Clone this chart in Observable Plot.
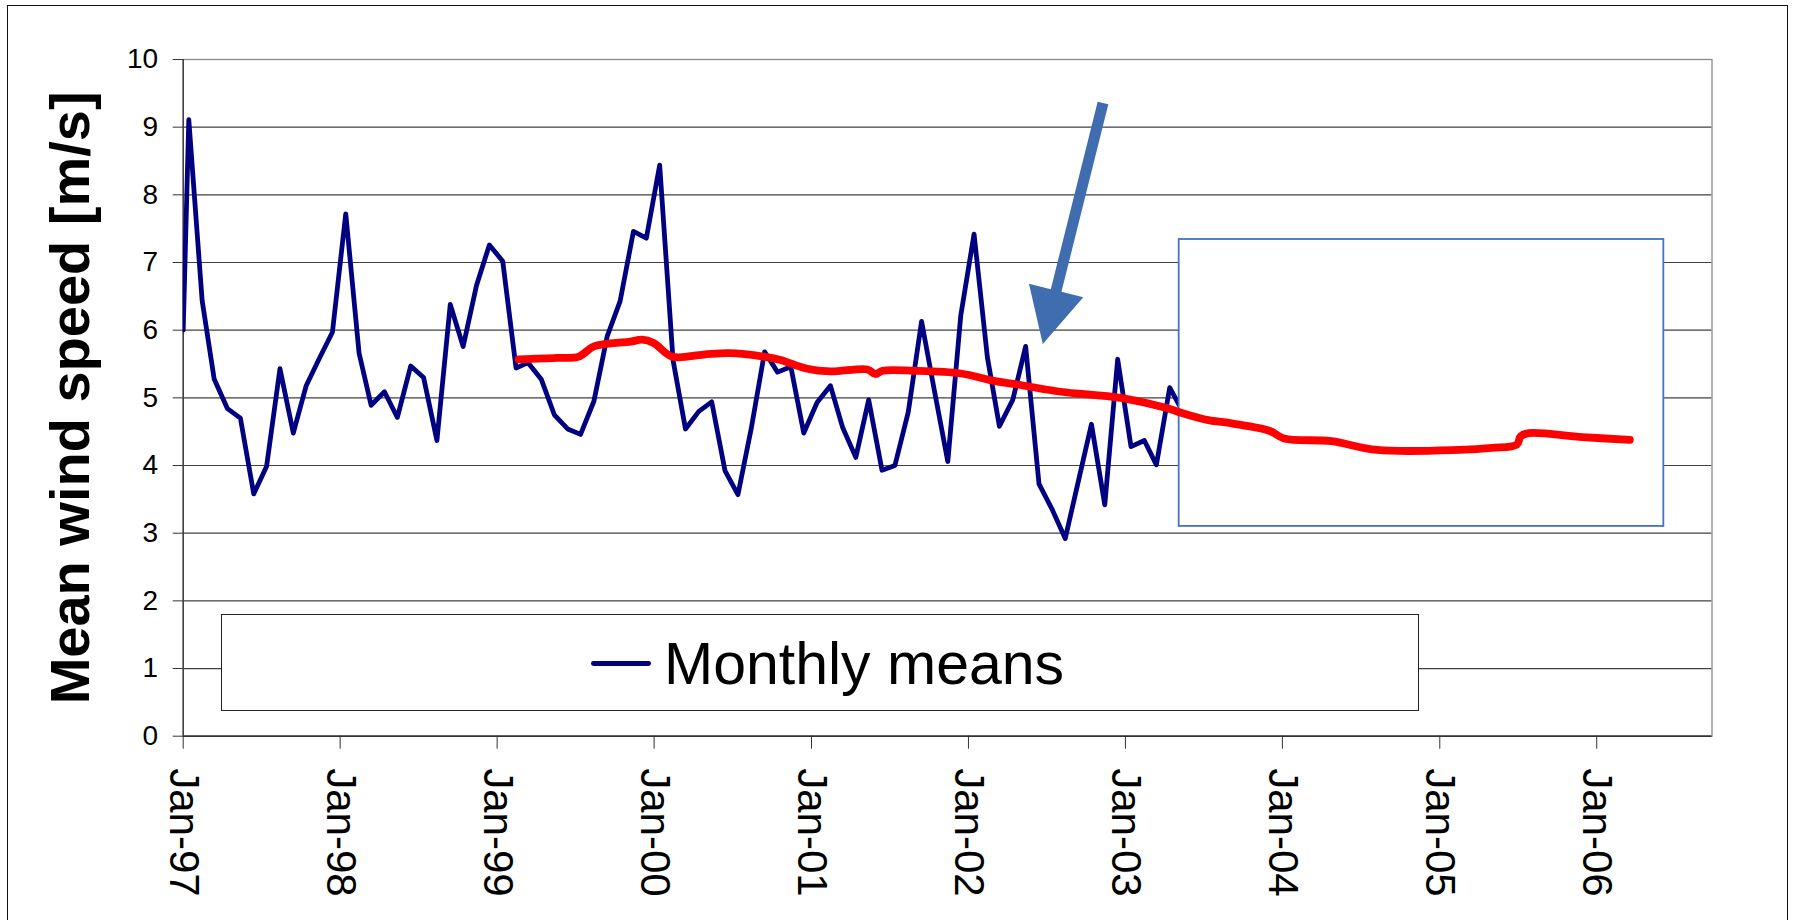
<!DOCTYPE html>
<html>
<head>
<meta charset="utf-8">
<script src="https://cdn.jsdelivr.net/npm/d3@7"></script>
<script src="https://cdn.jsdelivr.net/npm/@observablehq/plot@0.6"></script>
<style>
  html, body { margin: 0; padding: 0; background: #fff; }
  #wrap { position: relative; width: 1795px; height: 920px; overflow: hidden; background: #fff;
          font-family: "Liberation Sans", Arial, sans-serif; }
  #wrap svg { position: absolute; left: 0; top: 0; }
  #border { position: absolute; left: 6.5px; top: 5.3px; width: 1781px; height: 1000px;
            border: 1.5px solid #111; box-sizing: border-box; }
  #legend { position: absolute; left: 221px; top: 613.5px; width: 1198px; height: 97px;
            border: 1.5px solid #222; box-sizing: border-box; background: #fff; }
  #swatch { position: absolute; left: 590.7px; top: 661px; width: 60.5px; height: 4.8px;
            border-radius: 2.4px; background: #000080; }
  #legtext { position: absolute; left: 664px; top: 635px; font-size: 59px; line-height: 59px;
             color: #000; white-space: nowrap; }
</style>
</head>
<body>
<div id="wrap"></div>
<script>
// ---------------- data ----------------
// Monthly means (m/s), one value per month from Jan-97 (plotted mid-month)
const monthlyMeans = [
  9.11, 6.44, 5.28, 4.84, 4.70, 3.58, 3.99, 5.43, 4.48, 5.18, 5.59, 5.97,
  7.72, 5.66, 4.89, 5.09, 4.71, 5.47, 5.30, 4.37, 6.38, 5.76, 6.66, 7.26,
  7.02, 5.44, 5.52, 5.27, 4.75, 4.54, 4.46, 4.95, 5.91, 6.43, 7.46, 7.36,
  8.44, 5.56, 4.54, 4.80, 4.94, 3.92, 3.57, 4.55, 5.68, 5.38, 5.46, 4.48,
  4.93, 5.18, 4.57, 4.12, 4.97, 3.93, 4.00, 4.79, 6.13, 5.10, 4.06, 6.21,
  7.42, 5.60, 4.58, 4.97, 5.76, 3.73, 3.36, 2.92, 3.78, 4.61, 3.42, 5.57,
  4.28, 4.37, 4.01, 5.15, 4.80
];
const firstMonth = [1997, 0];
const monthDay = 14;
const leadingPoint = { date: "1997-01-01", value: 6.0 };

// Smoothed trend (red curve)
const trendDates = [
  "1999-02-20", "1999-05-20", "1999-07-10", "1999-08-14", "1999-11-07", "1999-12-04",
  "1999-12-31", "2000-02-12", "2000-04-25", "2000-06-23", "2000-09-12", "2000-10-21",
  "2000-12-22", "2001-02-14", "2001-05-11", "2001-05-30", "2001-06-15", "2001-08-27",
  "2001-12-14", "2002-03-01", "2002-05-02", "2002-08-03", "2002-12-21", "2003-03-31",
  "2003-05-26", "2003-07-13", "2003-09-08", "2003-12-03", "2004-01-05", "2004-04-24",
  "2004-08-08", "2005-02-15", "2005-05-02", "2005-06-29", "2005-07-08", "2005-07-27",
  "2005-11-29", "2006-03-19"
];
const trendValues = [
  5.57, 5.59, 5.61, 5.76, 5.83, 5.86,
  5.81, 5.61, 5.64, 5.66, 5.61, 5.56,
  5.43, 5.39, 5.42, 5.35, 5.40, 5.40,
  5.36, 5.25, 5.19, 5.09, 5.00, 4.86,
  4.75, 4.67, 4.62, 4.51, 4.40, 4.36,
  4.23, 4.23, 4.26, 4.31, 4.43, 4.48,
  4.42, 4.38
];

// Axes
const xDomain = ["1997-01-01", "2006-09-26"];
const tickYears = [1997, 1998, 1999, 2000, 2001, 2002, 2003, 2004, 2005, 2006];
const xTickLabels = ["Jan-97", "Jan-98", "Jan-99", "Jan-00", "Jan-01", "Jan-02", "Jan-03", "Jan-04", "Jan-05", "Jan-06"];
const yTicks = [0, 1, 2, 3, 4, 5, 6, 7, 8, 9, 10];
const yTitle = "Mean wind speed [m/s]";
const legendLabel = "Monthly means";

// Annotations (data coordinates)
const coverBox = [{ start: "2003-05-06", end: "2006-06-06", low: 3.10, high: 7.34 }];
const arrowAnnot = [{ fromDate: "2002-11-11", fromValue: 9.35, toDate: "2002-06-24", toValue: 5.79 }];

// ---------------- build ----------------
const blueData = [{ date: new Date(leadingPoint.date), value: leadingPoint.value }]
  .concat(monthlyMeans.map((v, i) => ({
    date: new Date(Date.UTC(firstMonth[0], firstMonth[1] + i, monthDay)), value: v
  })));
const redData = trendDates.map((d, i) => ({ date: new Date(d), value: trendValues[i] }));
const tickDates = tickYears.map(y => new Date(Date.UTC(y, 0, 1)));
const labelByYear = new Map(tickYears.map((y, i) => [y, xTickLabels[i]]));
const boxData = coverBox.map(b => ({ x1: new Date(b.start), x2: new Date(b.end), y1: b.low, y2: b.high }));

function arrowMark(index, scales) {
  const a = arrowAnnot[0];
  const x0 = scales.x(new Date(a.fromDate)), y0 = scales.y(a.fromValue);
  const x1 = scales.x(new Date(a.toDate)), y1 = scales.y(a.toValue);
  const dx = x1 - x0, dy = y1 - y0, L = Math.hypot(dx, dy);
  const ux = dx / L, uy = dy / L, px = -uy, py = ux;
  const headLen = 55, headHalf = 28, shaftHalf = 5.5;
  const bx = x1 - ux * headLen, by = y1 - uy * headLen;
  const pts = [
    [x0 + px * shaftHalf, y0 + py * shaftHalf],
    [bx + px * shaftHalf, by + py * shaftHalf],
    [bx + px * headHalf, by + py * headHalf],
    [x1, y1],
    [bx - px * headHalf, by - py * headHalf],
    [bx - px * shaftHalf, by - py * shaftHalf],
    [x0 - px * shaftHalf, y0 - py * shaftHalf]
  ];
  const path = document.createElementNS("http://www.w3.org/2000/svg", "path");
  path.setAttribute("d", "M" + pts.map(p => p[0].toFixed(2) + "," + p[1].toFixed(2)).join("L") + "Z");
  path.setAttribute("fill", "#3f6db0");
  return path;
}

const chart = Plot.plot({
  width: 1795,
  height: 920,
  marginLeft: 182.7,
  marginRight: 83.5,
  marginTop: 59,
  marginBottom: 184.3,
  style: { fontFamily: "'Liberation Sans', Arial, sans-serif", color: "#000", background: "transparent", overflow: "visible" },
  x: { type: "utc", domain: xDomain.map(d => new Date(d)) },
  y: { domain: [0, 10] },
  marks: [
    Plot.gridY(yTicks, { stroke: "#404040", strokeOpacity: 1, strokeWidth: 1.2 }),
    Plot.frame({ stroke: "#8a8a8a", strokeWidth: 1.3 }),
    Plot.ruleX([new Date(xDomain[0])], { stroke: "#333", strokeWidth: 1.3 }),
    Plot.ruleY([0], { stroke: "#333", strokeWidth: 1.4 }),
    Plot.axisY(yTicks, { tickSize: 10, tickPadding: 15, fontSize: 28, label: null, stroke: "#333", tickFormat: d => String(d) }),
    Plot.axisY({ ticks: [], label: yTitle, labelAnchor: "center", labelArrow: "none", labelOffset: 134, fontSize: 56, fontWeight: "bold" }),
    Plot.axisX(tickDates, { tickSize: 13, tickPadding: 19, tickRotate: 90, textAnchor: "start", fontSize: 42, label: null, stroke: "#333",
      tickFormat: d => labelByYear.get(d.getUTCFullYear()) }),
    Plot.lineY(blueData, { x: "date", y: "value", stroke: "#000080", strokeWidth: 4.8, strokeLinejoin: "round", clip: true }),
    Plot.rect(boxData, { x1: "x1", x2: "x2", y1: "y1", y2: "y2", fill: "white", stroke: "#4472c4", strokeWidth: 1.8 }),
    Plot.lineY(redData, { x: "date", y: "value", stroke: "#ff0000", strokeWidth: 7.8, curve: "catmull-rom" }),
    arrowMark
  ]
});

const wrap = document.getElementById("wrap");
wrap.appendChild(chart);
const border = document.createElement("div"); border.id = "border"; wrap.appendChild(border);
const legend = document.createElement("div"); legend.id = "legend"; wrap.appendChild(legend);
const swatch = document.createElement("div"); swatch.id = "swatch"; wrap.appendChild(swatch);
const legtext = document.createElement("div"); legtext.id = "legtext"; legtext.textContent = legendLabel; wrap.appendChild(legtext);
</script>
</body>
</html>
